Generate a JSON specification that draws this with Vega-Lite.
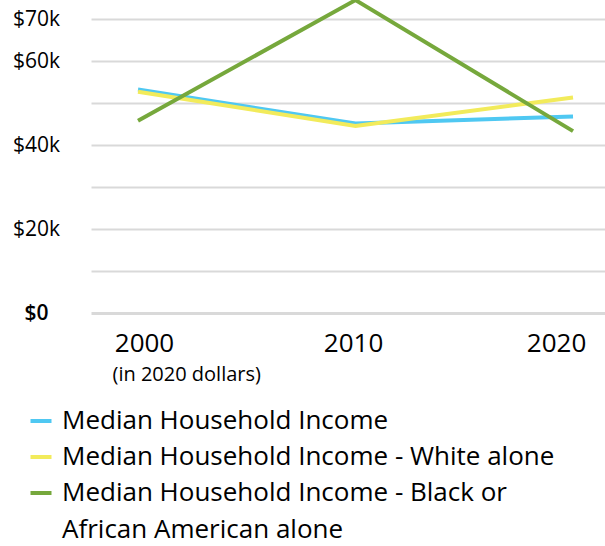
{
  "$schema": "https://vega.github.io/schema/vega-lite/v6.json",
  "width": 514,
  "height": 294,
  "autosize": {"type": "none"},
  "padding": {"left": 91, "top": 19, "right": 0, "bottom": 233},
  "background": "white",
  "config": {
    "font": "Open Sans",
    "view": {"stroke": null},
    "style": {"guide-label": {"lineHeight": 37}}
  },
  "data": {
    "values": [
      {"year": 2000, "series": "Median Household Income", "value": 53200},
      {"year": 2010, "series": "Median Household Income", "value": 45100},
      {"year": 2020, "series": "Median Household Income", "value": 46800},
      {"year": 2000, "series": "Median Household Income - White alone", "value": 52700},
      {"year": 2010, "series": "Median Household Income - White alone", "value": 44500},
      {"year": 2020, "series": "Median Household Income - White alone", "value": 51300},
      {"year": 2000, "series": "Median Household Income - Black or African American alone", "value": 45800},
      {"year": 2010, "series": "Median Household Income - Black or African American alone", "value": 74500},
      {"year": 2020, "series": "Median Household Income - Black or African American alone", "value": 43300}
    ]
  },
  "mark": {"type": "line", "strokeWidth": 4, "clip": false},
  "encoding": {
    "x": {
      "field": "year",
      "type": "quantitative",
      "scale": {"domain": [1997.839, 2021.47], "nice": false, "zero": false},
      "axis": {
        "values": [2000, 2010, 2020],
        "format": "d",
        "domain": false,
        "ticks": false,
        "grid": false,
        "labelFontSize": 26,
        "labelColor": "#000000",
        "labelPadding": 17,
        "labelOffset": {"expr": "datum.value == 2000 ? 6 : datum.value == 2010 ? -2.5 : -17"},
        "title": "(in 2020 dollars)",
        "titleFontSize": 20,
        "titleFontWeight": "normal",
        "titleColor": "#000000",
        "titleAnchor": "start",
        "titleAlign": "left",
        "titleBaseline": "top",
        "titleX": 21,
        "titleY": 51
      }
    },
    "y": {
      "field": "value",
      "type": "quantitative",
      "scale": {"domain": [0, 70000], "nice": false},
      "axis": {
        "values": [0, 10000, 20000, 30000, 40000, 50000, 60000, 70000],
        "labelExpr": "datum.value == 0 ? '$0' : (datum.value == 10000 || datum.value == 30000 || datum.value == 50000) ? '' : '$' + (datum.value / 1000) + 'k'",
        "domain": false,
        "ticks": false,
        "grid": true,
        "gridColor": "#d9d9d9",
        "gridWidth": {"condition": {"test": "datum.value == 0", "value": 3}, "value": 2},
        "labelFontSize": 21,
        "labelColor": "#000000",
        "labelFontWeight": {"condition": {"test": "datum.value == 0", "value": 600}, "value": "normal"},
        "labelAlign": "center",
        "labelPadding": 55,
        "title": null
      }
    },
    "color": {
      "field": "series",
      "type": "nominal",
      "scale": {
        "domain": ["Median Household Income", "Median Household Income - White alone", "Median Household Income - Black or African American alone"],
        "range": ["#4fc8f2", "#f2eb5b", "#76a83c"]
      },
      "legend": {
        "orient": "none",
        "legendX": -63,
        "legendY": 389,
        "title": null,
        "symbolType": "stroke",
        "symbolStrokeWidth": 4,
        "symbolSize": 441,
        "labelFontSize": 26,
        "labelColor": "#000000",
        "labelLimit": 700,
        "labelOffset": 8,
        "rowPadding": 10,
        "labelExpr": "datum.label == 'Median Household Income - Black or African American alone' ? ['Median Household Income - Black or', 'African American alone'] : datum.label"
      }
    }
  }
}
